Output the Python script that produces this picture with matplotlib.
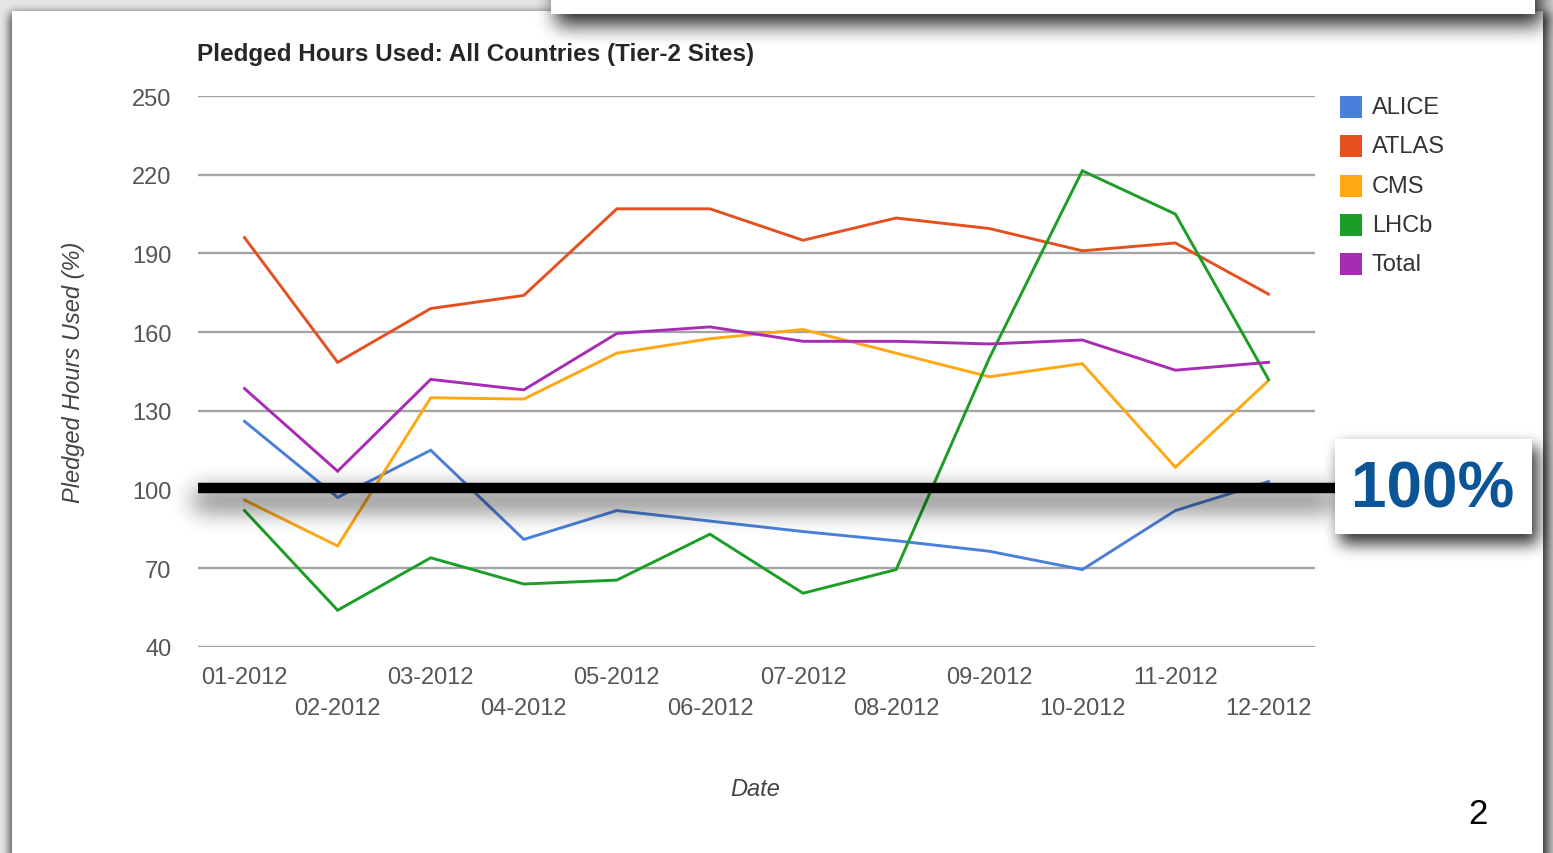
import numpy as np
import matplotlib
matplotlib.use("Agg")
import matplotlib.pyplot as plt
from matplotlib.patches import Rectangle
import matplotlib.transforms as mtransforms

# ---------------- data ----------------
months = ['01-2012', '02-2012', '03-2012', '04-2012', '05-2012', '06-2012',
          '07-2012', '08-2012', '09-2012', '10-2012', '11-2012', '12-2012']
alice = [126, 97, 115, 81, 92, 88, 84, 80.5, 76.5, 69.5, 92, 103]
atlas = [196, 148.5, 169, 174, 207, 207, 195, 203.5, 199.5, 191, 194, 174.5]
cms = [96, 78.5, 135, 134.5, 152, 157.5, 161, 152, 143, 148, 108.5, 141.5]
lhcb = [92, 54, 74, 64, 65.5, 83, 60.5, 69.5, 150, 221.5, 205, 142]
total = [138.5, 107, 142, 138, 159.5, 162, 156.5, 156.5, 155.5, 157, 145.5, 148.5]
series_names = ['ALICE', 'ATLAS', 'CMS', 'LHCb', 'Total']
series_colors = ['#4a80d9', '#e5501f', '#ffa812', '#1a9e25', '#a72bb3']
y_ticks = [40, 70, 100, 130, 160, 190, 220, 250]
reference_level = 100
title = 'Pledged Hours Used: All Countries (Tier-2 Sites)'
y_label = 'Pledged Hours Used (%)'
x_label = 'Date'
callout = '100%'
page_number = '2'

W, H = 1553, 854
plt.rcParams['font.family'] = ['Liberation Sans', 'DejaVu Sans']
fig = plt.figure(figsize=(W / 100, H / 100), dpi=100)


def fx(px):
    return px / W


def fy(py):
    return 1 - py / H


def blur(a, r, n=3):
    for _ in range(n):
        for axis in (0, 1):
            pad = [(0, 0), (0, 0)]
            pad[axis] = (r + 1, r)
            c = np.cumsum(np.pad(a, pad, mode='edge'), axis=axis)
            if axis == 0:
                a = (c[2 * r + 1:, :] - c[:-2 * r - 1, :]) / (2 * r + 1)
            else:
                a = (c[:, 2 * r + 1:] - c[:, :-2 * r - 1]) / (2 * r + 1)
    return a


def shadow_img(rects, r, strength):
    a = np.zeros((H, W))
    for (x0, y0, x1, y1) in rects:
        a[max(y0, 0):min(y1, H), max(x0, 0):min(x1, W)] = 1.0
    a = blur(a, r) * strength
    img = np.zeros((H, W, 4))
    img[..., 3] = np.clip(a, 0, 1)
    return img


# ---------------- background layer ----------------
bg = fig.add_axes([0, 0, 1, 1], zorder=0)
bg.axis('off')
bg.add_patch(Rectangle((0, 0), W, H, facecolor='#e6e6e6', edgecolor='none'))
bg.imshow(shadow_img([(10, 14, 1549, 880)], 4, 0.75), extent=(0, W, H, 0),
          interpolation='bilinear', zorder=1, aspect='auto')
bg.add_patch(Rectangle((12, 12), 1531, 900, facecolor='white', edgecolor='none', zorder=2))
bg.set_xlim(0, W)
bg.set_ylim(H, 0)

# ---------------- chart ----------------
ax = fig.add_axes([fx(198), fy(648), fx(1315) - fx(198), fy(97) - fy(648)], zorder=1)
ax.set_facecolor('none')
x = np.arange(len(months))
for vals, name, col in zip([alice, atlas, cms, lhcb, total], series_names, series_colors):
    ax.plot(x, vals, color=col, lw=2.1, solid_joinstyle='miter', zorder=3)

ax.set_xlim(-0.5, len(months) - 0.5)
ax.set_ylim(y_ticks[0], y_ticks[-1])
ax.set_yticks(y_ticks)
ax.set_yticklabels([str(t) for t in y_ticks])
ax.yaxis.grid(True, color='#a4a4a4', lw=1.7)
ax.set_axisbelow(True)
for s in ax.spines.values():
    s.set_visible(False)
ax.tick_params(axis='y', length=0, pad=19, labelsize=17, labelcolor='#555555')

ax.set_xticks(x[0::2])
ax.set_xticklabels(months[0::2])
ax.set_xticks(x[1::2], minor=True)
ax.set_xticklabels(months[1::2], minor=True)
ax.tick_params(axis='x', which='major', length=0, pad=14, labelsize=17, labelcolor='#555555')
ax.tick_params(axis='x', which='minor', length=0, pad=36, labelsize=17, labelcolor='#555555')

ax.set_ylabel(y_label, fontsize=17, style='italic', color='#444444')
ax.yaxis.set_label_coords(-0.101, 0.5)
fig.text(fx(755), fy(790), x_label, fontsize=17, style='italic', color='#444444',
         ha='center', va='center')
fig.text(fx(197), fy(54), title, fontsize=17.5, fontweight='bold', color='#262626',
         ha='left', va='center')

# legend (manual)
for i, (name, col) in enumerate(zip(series_names, series_colors)):
    yc = 108 + i * 39.3
    bg.add_patch(Rectangle((1340, yc - 11), 22, 22, facecolor=col, edgecolor='none', zorder=3))
    bg.text(1372, yc, name, fontsize=17, color='#333333', ha='left', va='center', zorder=3)

# ---------------- overlay ----------------
ov = fig.add_axes([0, 0, 1, 1], zorder=2)
ov.set_facecolor('none')
ov.axis('off')
ov.imshow(shadow_img([(194, 492, 1335, 510)], 11, 0.6), extent=(0, W, H, 0),
          interpolation='bilinear', zorder=1, aspect='auto')
ov.imshow(shadow_img([(1340, 448, 1538, 545)], 7, 0.8), extent=(0, W, H, 0),
          interpolation='bilinear', zorder=2, aspect='auto')
ov.imshow(shadow_img([(556, -20, 1542, 26)], 9, 0.85), extent=(0, W, H, 0),
          interpolation='bilinear', zorder=2, aspect='auto')
ov.set_xlim(0, W)
ov.set_ylim(H, 0)

trans = mtransforms.blended_transform_factory(ax.transAxes, ax.transData)
ov.plot([0, (1336 - 198) / (1315 - 198)], [reference_level + 0.6, reference_level + 0.6],
        color='black', lw=7.5, solid_capstyle='butt', transform=trans, clip_on=False, zorder=3)

ov.add_patch(Rectangle((1335, 440), 197, 95, facecolor='white', edgecolor='none', zorder=4))
ov.text(1433, 491, callout, fontsize=46, fontweight='bold', color='#0b5597',
        ha='center', va='center', zorder=5)
ov.add_patch(Rectangle((551, -5), 984, 20, facecolor='white', edgecolor='none', zorder=4))

ov.text(1478, 815, page_number, fontsize=25, color='black', ha='center', va='center', zorder=5)

fig.savefig('out.png', dpi=100)
